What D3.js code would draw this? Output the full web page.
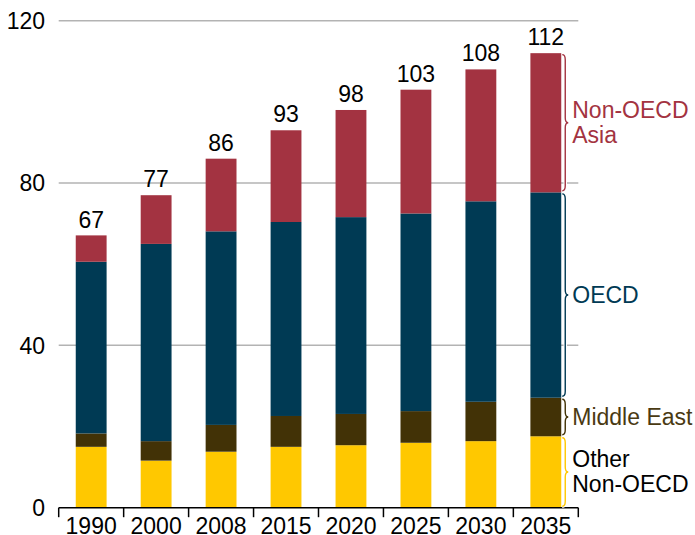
<!DOCTYPE html>
<html>
<head>
<meta charset="utf-8">
<script src="https://cdn.jsdelivr.net/npm/d3@7"></script>
<style>
  body { margin: 0; background: #fff; }
  text { font-family: "Liberation Sans", Arial, sans-serif; }
</style>
</head>
<body>
<div id="chart"></div>
<script>
// Data
var years = ["1990", "2000", "2008", "2015", "2020", "2025", "2030", "2035"];
var otherNonOecd = [15.0, 11.6, 13.8, 15.0, 15.4, 16.0, 16.4, 17.6];
var middleEast   = [3.3, 4.8, 6.6, 7.6, 7.7, 7.8, 9.7, 9.5];
var oecd         = [42.3, 48.6, 47.7, 47.8, 48.5, 48.7, 49.4, 50.6];
var nonOecdAsia  = [6.5, 12.0, 17.9, 22.6, 26.4, 30.5, 32.5, 34.3];
var totals       = [67, 77, 86, 93, 98, 103, 108, 112];
var yTicks = [0, 40, 80, 120];

var keys = ["other", "me", "oecd", "asia"];
var colors = { other: "#ffc800", me: "#423206", oecd: "#003a54", asia: "#a33341" };
var labelColors = { other: "#000000", me: "#4a3a12", oecd: "#003a54", asia: "#a33341" };
var labelLines = { other: ["Other", "Non-OECD"], me: ["Middle East"], oecd: ["OECD"], asia: ["Non-OECD", "Asia"] };

var width = 695, height = 535;
var fs = 23;
var svg = d3.select("#chart").append("svg")
    .attr("width", width)
    .attr("height", height);

var x = d3.scaleBand().domain(years).range([58.7, 578.3]).padding(0);
var y = d3.scaleLinear().domain([0, 120]).range([507.7, 20.7]);
var barW = x.bandwidth() * 0.475;

var rows = years.map(function(yr, i) {
    return { year: yr, other: otherNonOecd[i], me: middleEast[i], oecd: oecd[i], asia: nonOecdAsia[i], total: totals[i] };
});
var series = d3.stack().keys(keys)(rows);

// gridlines
svg.append("g").selectAll("line")
    .data(yTicks.filter(function(d){ return d > 0; }))
    .enter().append("line")
    .attr("x1", 58.7).attr("x2", 578.3)
    .attr("y1", function(d){ return y(d); })
    .attr("y2", function(d){ return y(d); })
    .attr("stroke", "#b3b3b3")
    .attr("stroke-width", 1.5);

// y tick labels
svg.append("g").selectAll("text")
    .data(yTicks)
    .enter().append("text")
    .attr("x", 45)
    .attr("y", function(d){ return y(d); })
    .attr("dy", "0.36em")
    .attr("text-anchor", "end")
    .attr("font-size", fs)
    .text(function(d){ return d; });

// bars
var layers = svg.append("g").selectAll("g")
    .data(series)
    .enter().append("g")
    .attr("fill", function(d){ return colors[d.key]; });
layers.selectAll("rect")
    .data(function(d){ return d; })
    .enter().append("rect")
    .attr("x", function(d){ return x(d.data.year) + (x.bandwidth() - barW) / 2; })
    .attr("width", barW)
    .attr("y", function(d){ return y(d[1]); })
    .attr("height", function(d){ return y(d[0]) - y(d[1]); });

// total labels
svg.append("g").selectAll("text")
    .data(rows)
    .enter().append("text")
    .attr("x", function(d){ return x(d.year) + x.bandwidth() / 2; })
    .attr("y", function(d){ return y(d.total) - 8; })
    .attr("text-anchor", "middle")
    .attr("font-size", fs)
    .text(function(d){ return d.total; });

// x axis: line, ticks at band edges, labels centred
var axis = svg.append("g");
axis.append("line")
    .attr("x1", 58.7).attr("x2", 578.3)
    .attr("y1", y(0)).attr("y2", y(0))
    .attr("stroke", "#000").attr("stroke-width", 1.5);
var edges = years.map(function(d){ return x(d); }).concat([x(years[years.length - 1]) + x.bandwidth()]);
axis.selectAll("line.tick")
    .data(edges)
    .enter().append("line")
    .attr("class", "tick")
    .attr("x1", function(d){ return d; }).attr("x2", function(d){ return d; })
    .attr("y1", y(0)).attr("y2", y(0) + 9.5)
    .attr("stroke", "#000").attr("stroke-width", 1.5);
axis.selectAll("text")
    .data(years)
    .enter().append("text")
    .attr("x", function(d){ return x(d) + x.bandwidth() / 2; })
    .attr("y", 534)
    .attr("text-anchor", "middle")
    .attr("font-size", fs)
    .text(function(d){ return d; });

// braces + labels for the last bar
function bracePath(bx, y0, y1, w) {
    var mid = (y0 + y1) / 2, r = Math.min(5, (y1 - y0) / 4), h = bx + w / 2;
    return "M" + bx + "," + y0 +
        " Q" + h + "," + y0 + " " + h + "," + (y0 + r) +
        " L" + h + "," + (mid - r) +
        " Q" + h + "," + mid + " " + (bx + w) + "," + mid +
        " Q" + h + "," + mid + " " + h + "," + (mid + r) +
        " L" + h + "," + (y1 - r) +
        " Q" + h + "," + y1 + " " + bx + "," + y1;
}
var last = years.length - 1;
var bx = x(years[last]) + (x.bandwidth() + barW) / 2 + 1;
var braces = svg.append("g");
series.forEach(function(s) {
    var d = s[last];
    var top = y(d[1]) + 1.5, bot = y(d[0]) - 1.5;
    var p = bracePath(bx, top, bot, 6);
    braces.append("path").attr("d", p).attr("fill", "none")
        .attr("stroke", "#fff").attr("stroke-width", 3.5);
    braces.append("path").attr("d", p).attr("fill", "none")
        .attr("stroke", colors[s.key]).attr("stroke-width", 1.4);
    var lines = labelLines[s.key];
    var mid = (top + bot) / 2;
    var t = braces.append("text")
        .attr("x", bx + 10)
        .attr("font-size", fs)
        .attr("fill", labelColors[s.key]);
    lines.forEach(function(line, i) {
        t.append("tspan")
            .attr("x", bx + 10)
            .attr("y", mid + 8 + (i - (lines.length - 1) / 2) * 25)
            .text(line);
    });
});
</script>
</body>
</html>
